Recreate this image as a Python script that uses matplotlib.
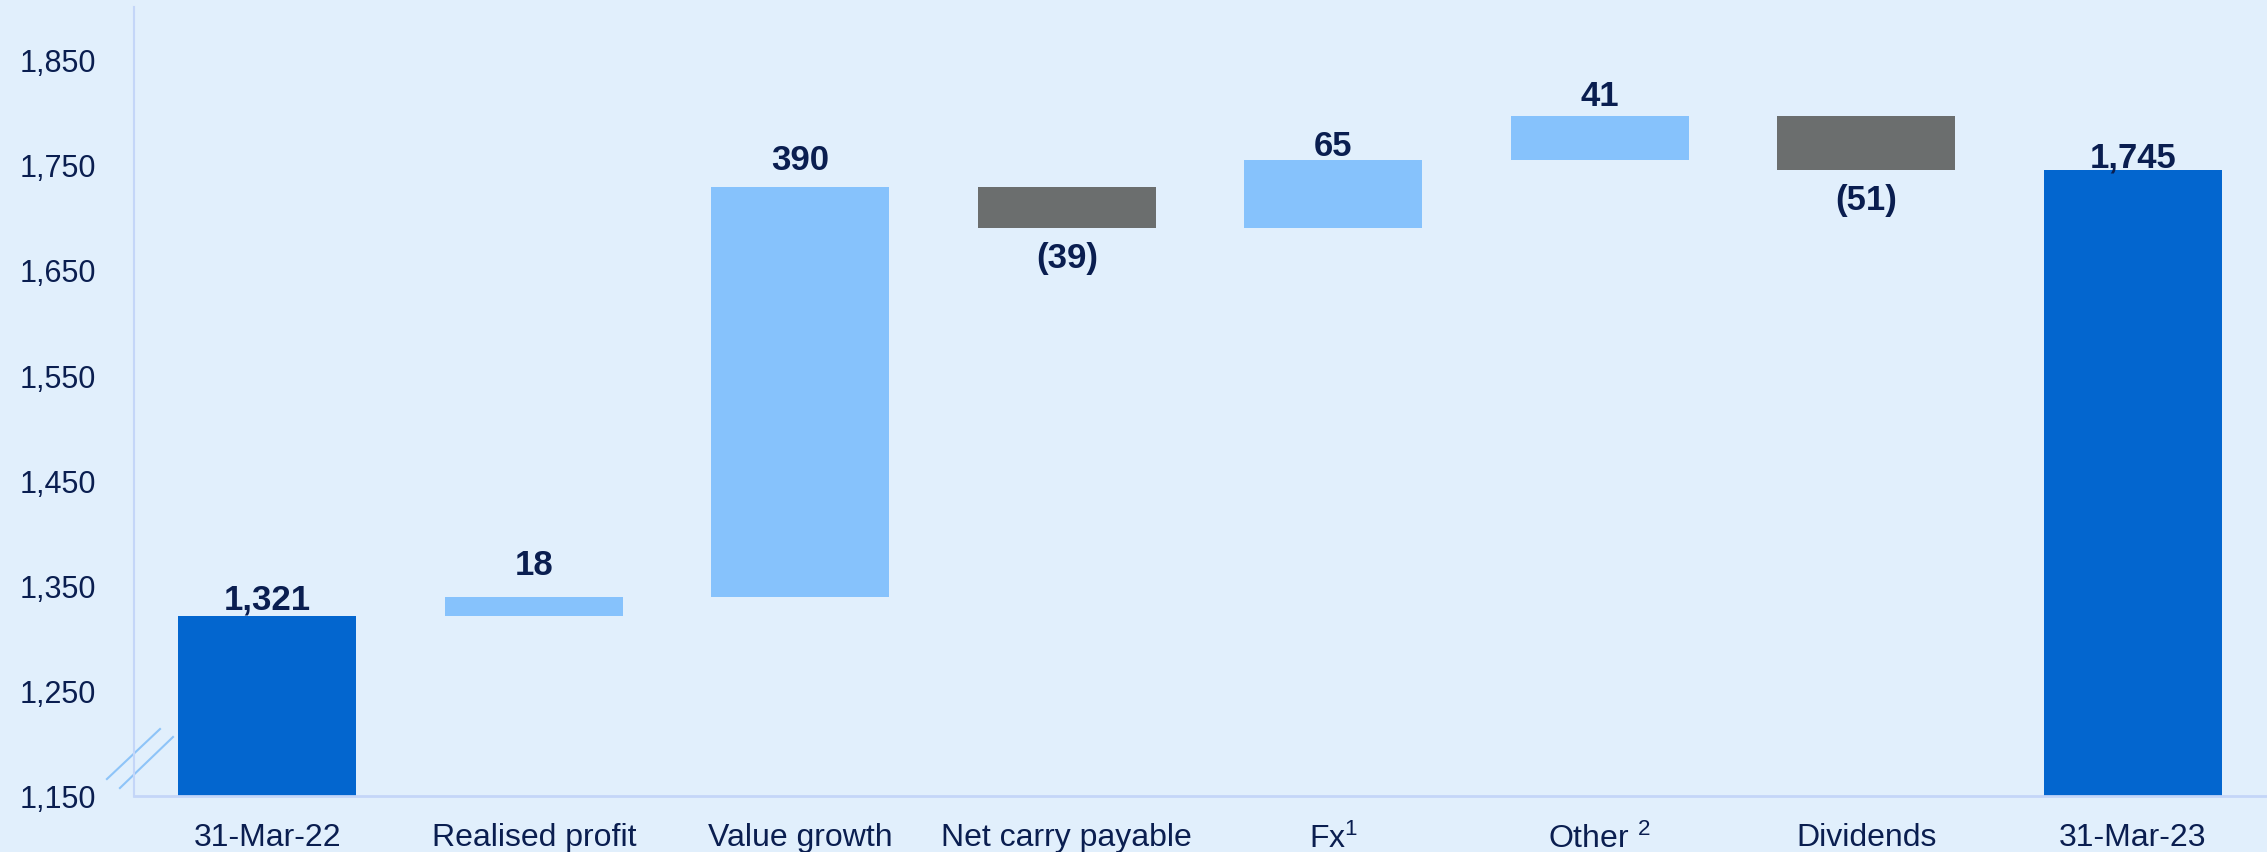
import matplotlib
matplotlib.use("Agg")
import matplotlib.pyplot as plt
import numpy as np

# NAV bridge, £m
categories = ["31-Mar-22", "Realised profit", "Value growth", "Net carry payable",
              "Fx$^1$", "Other $^2$", "Dividends", "31-Mar-23"]
opening = 1321
moves = [18, 390, -39, 65, 41, -51]
closing = 1745

# gap between bar end and its label, in pixels (labels were hand placed)
label_gap = [8, 23, 18, 13, 5, 11, 13, 4]

BG = "#E1EFFC"
DARK = "#0366CF"
LIGHT = "#86C2FC"
GREY = "#6B6E6E"
NAVY = "#0A1E50"
AXIS = "#C4D6F8"

plt.rcParams['font.family'] = ['Liberation Sans', 'DejaVu Sans']
plt.rcParams['mathtext.fontset'] = 'custom'
plt.rcParams['mathtext.rm'] = 'Liberation Sans'
plt.rcParams['mathtext.it'] = 'Liberation Sans'

fig = plt.figure(figsize=(22.67, 8.53), dpi=100, facecolor=BG)
ax = fig.add_axes([134 / 2267, 56 / 853, 2132 / 2267, 789 / 853])
ax.set_facecolor(BG)

x = np.arange(len(categories))
w = 0.668
base = 1150


def label(xi, y, txt, gap, up=True):
    pts = gap * 0.72
    ax.annotate(txt, (xi, y), xytext=(0, pts if up else -pts),
                textcoords='offset points', ha='center',
                va='baseline' if up else 'top',
                fontsize=25, fontweight='bold', color=NAVY)


# totals
ax.bar(x[0], opening - base, bottom=base, width=w, color=DARK)
ax.bar(x[-1], closing - base, bottom=base, width=w, color=DARK)
label(x[0], opening, f"{opening:,}", label_gap[0])
label(x[-1], closing, f"{closing:,}", label_gap[-1])

# moves
level = opening
for i, m in enumerate(moves):
    xi = x[i + 1]
    lo = min(level, level + m)
    col = LIGHT if m > 0 else GREY
    ax.bar(xi, abs(m), bottom=lo, width=w, color=col)
    if m > 0:
        label(xi, level + m, f"{m}", label_gap[i + 1])
    else:
        label(xi, level + m, f"({abs(m)})", label_gap[i + 1], up=False)
    level += m

ax.set_xlim(-0.5, 7.5)
ax.set_ylim(1150, 1900)
ticks = np.arange(1150, 1851, 100)
ax.set_yticks(ticks)
ax.set_yticklabels([f"{v:,}" for v in ticks])
ax.set_xticks(x)
ax.set_xticklabels(categories)
ax.tick_params(axis='y', length=0, pad=27, labelsize=22, labelcolor=NAVY)
ax.tick_params(axis='x', length=0, pad=19, labelsize=23, labelcolor=NAVY)

for s in ['top', 'right']:
    ax.spines[s].set_visible(False)
ax.spines['left'].set_color(AXIS)
ax.spines['bottom'].set_color(AXIS)
ax.spines['left'].set_linewidth(1.5)
ax.spines['bottom'].set_linewidth(2)

# axis break marks
ax.plot([-0.0127, 0.0122], [0.0215, 0.0849], transform=ax.transAxes,
        color="#8EC4F8", lw=1.5, clip_on=False)
ax.plot([-0.0066, 0.0183], [0.0101, 0.0748], transform=ax.transAxes,
        color="#8EC4F8", lw=1.5, clip_on=False)

fig.savefig("out.png", dpi=100, facecolor=BG)
